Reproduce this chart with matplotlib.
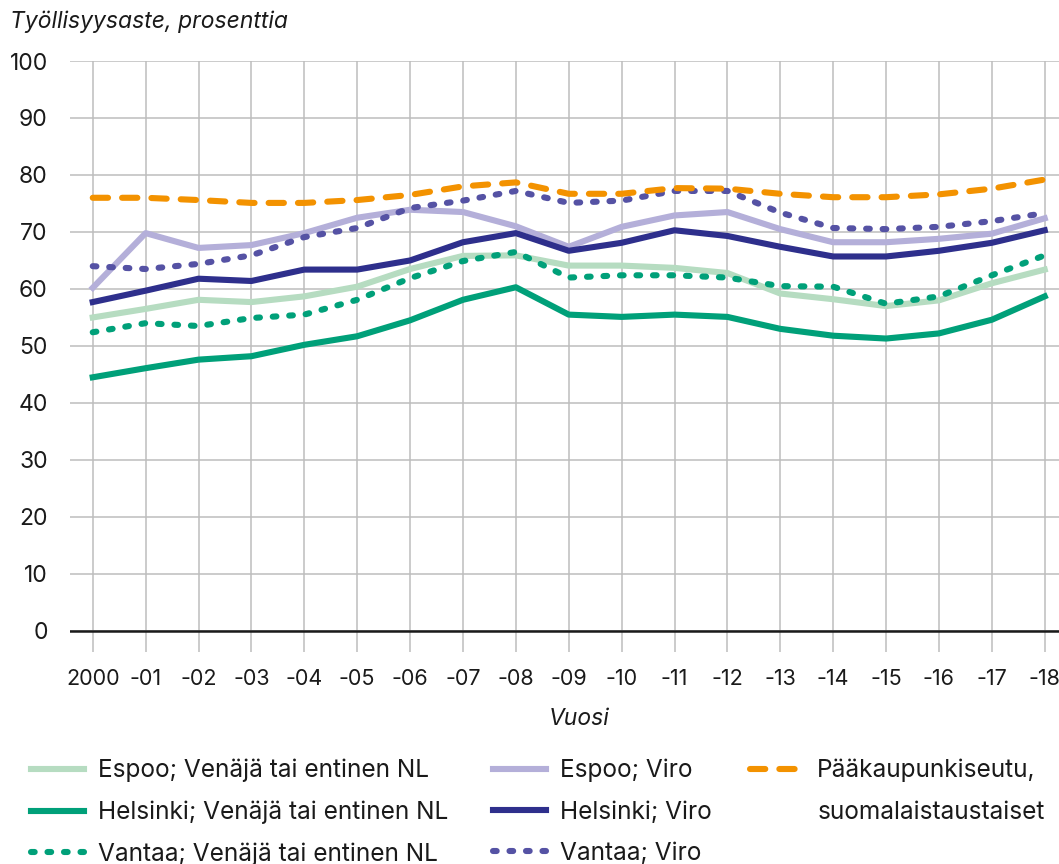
import matplotlib
matplotlib.use('Agg')  # no display in the sandbox
import matplotlib.pyplot as plt
from matplotlib.lines import Line2D

plt.rcParams['font.family'] = ['Inter', 'DejaVu Sans']

# data
years = list(range(2000, 2019))
year_labels = ['2000'] + ['-%02d' % (y - 2000) for y in years[1:]]

espoo_venaja = [55.0, 56.5, 58.1, 57.7, 58.7, 60.4, 63.5, 65.8, 65.9, 64.1,
                64.1, 63.7, 62.8, 59.2, 58.2, 57.0, 58.0, 61.0, 63.4]
helsinki_venaja = [44.5, 46.1, 47.6, 48.2, 50.2, 51.7, 54.5, 58.1, 60.3, 55.5,
                   55.1, 55.5, 55.1, 53.0, 51.8, 51.3, 52.2, 54.6, 58.7]
vantaa_venaja = [52.4, 54.0, 53.5, 54.9, 55.5, 58.1, 61.9, 64.9, 66.5, 62.0,
                 62.4, 62.4, 62.0, 60.5, 60.4, 57.4, 58.7, 62.4, 65.9]
espoo_viro = [60.2, 69.8, 67.2, 67.7, 69.8, 72.5, 73.9, 73.5, 71.0, 67.4,
              70.9, 72.9, 73.5, 70.5, 68.2, 68.2, 68.8, 69.7, 72.4]
helsinki_viro = [57.7, 59.7, 61.8, 61.4, 63.4, 63.4, 65.0, 68.2, 69.8, 66.7,
                 68.1, 70.3, 69.3, 67.4, 65.7, 65.7, 66.7, 68.1, 70.3]
vantaa_viro = [64.0, 63.5, 64.4, 65.9, 69.1, 70.7, 74.2, 75.5, 77.2, 75.1,
               75.5, 77.2, 77.2, 73.4, 70.7, 70.5, 70.9, 71.9, 73.3]
paakaupunkiseutu = [76.0, 76.0, 75.6, 75.1, 75.1, 75.6, 76.5, 78.0, 78.7, 76.7,
                    76.7, 77.7, 77.6, 76.7, 76.1, 76.1, 76.6, 77.6, 79.2]

# colours
c_light_green = '#b6dcc1'
c_green = '#00a079'
c_light_purple = '#b4afd9'
c_navy = '#2e2f8c'
c_purple = '#5552a4'
c_orange = '#f39200'

lw = 4.4
dotted = (0, (0.6, 2.1))
dashed = (0, (2.5, 2.3))

fig = plt.figure(figsize=(10.59, 8.64), dpi=100)
ax = fig.add_axes([70 / 1059, 1 - 652 / 864, 1 - 70 / 1059, (652 - 61) / 864])

l_ev, = ax.plot(years, espoo_venaja, color=c_light_green, lw=lw, zorder=3)
l_evi, = ax.plot(years, espoo_viro, color=c_light_purple, lw=lw, zorder=3)
l_hv, = ax.plot(years, helsinki_venaja, color=c_green, lw=lw, zorder=4)
l_hvi, = ax.plot(years, helsinki_viro, color=c_navy, lw=lw, zorder=4)
l_vv, = ax.plot(years, vantaa_venaja, color=c_green, lw=lw, ls=dotted,
                dash_capstyle='round', zorder=5)
l_vvi, = ax.plot(years, vantaa_viro, color=c_purple, lw=lw, ls=dotted,
                 dash_capstyle='round', zorder=5)
l_pk, = ax.plot(years, paakaupunkiseutu, color=c_orange, lw=lw, ls=dashed,
                dash_capstyle='round', zorder=6)

ax.set_xlim(1999.57, 2018.27)
ax.set_ylim(-3.7, 100)
ax.set_yticks(range(0, 101, 10))
ax.set_xticks(years)
ax.set_xticklabels(year_labels)
ax.grid(True, color='#bdbdbd', lw=1.1, zorder=1)
ax.axhline(0, color='#1a1a1a', lw=1.8, zorder=2)
for s in ax.spines.values():
    s.set_visible(False)
ax.tick_params(axis='y', length=0, pad=16, labelsize=16.5, labelcolor='#1a1a1a')
ax.tick_params(axis='x', length=0, pad=12, labelsize=15.5, labelcolor='#1a1a1a')

fig.text(10 / 1059, 1 - 22 / 864, 'Työllisyysaste, prosenttia', style='italic',
         fontsize=16.5, ha='left', va='center', color='#1a1a1a')
fig.text(579 / 1059, 1 - 719 / 864, 'Vuosi', style='italic', fontsize=16.5,
         ha='center', va='center', color='#1a1a1a')

# legend, three separate columns
leg_kw = dict(loc='upper left', frameon=False, fontsize=17.6, borderpad=0,
              borderaxespad=0, handlelength=2.15, handletextpad=0.6,
              labelspacing=0.74, labelcolor='#1a1a1a')
top = 1 - 759 / 864
fig.legend([l_ev, l_hv, l_vv],
           ['Espoo; Venäjä tai entinen NL', 'Helsinki; Venäjä tai entinen NL',
            'Vantaa; Venäjä tai entinen NL'],
           bbox_to_anchor=(31 / 1059, top), **leg_kw)
fig.legend([l_evi, l_hvi, l_vvi],
           ['Espoo; Viro', 'Helsinki; Viro', 'Vantaa; Viro'],
           bbox_to_anchor=(493 / 1059, top), **leg_kw)
fig.legend([l_pk, Line2D([], [], color='none')],
           ['Pääkaupunkiseutu,', 'suomalaistaustaiset'],
           bbox_to_anchor=(750 / 1059, top), **leg_kw)

fig.savefig('out.png', dpi=100)
plt.close(fig)
